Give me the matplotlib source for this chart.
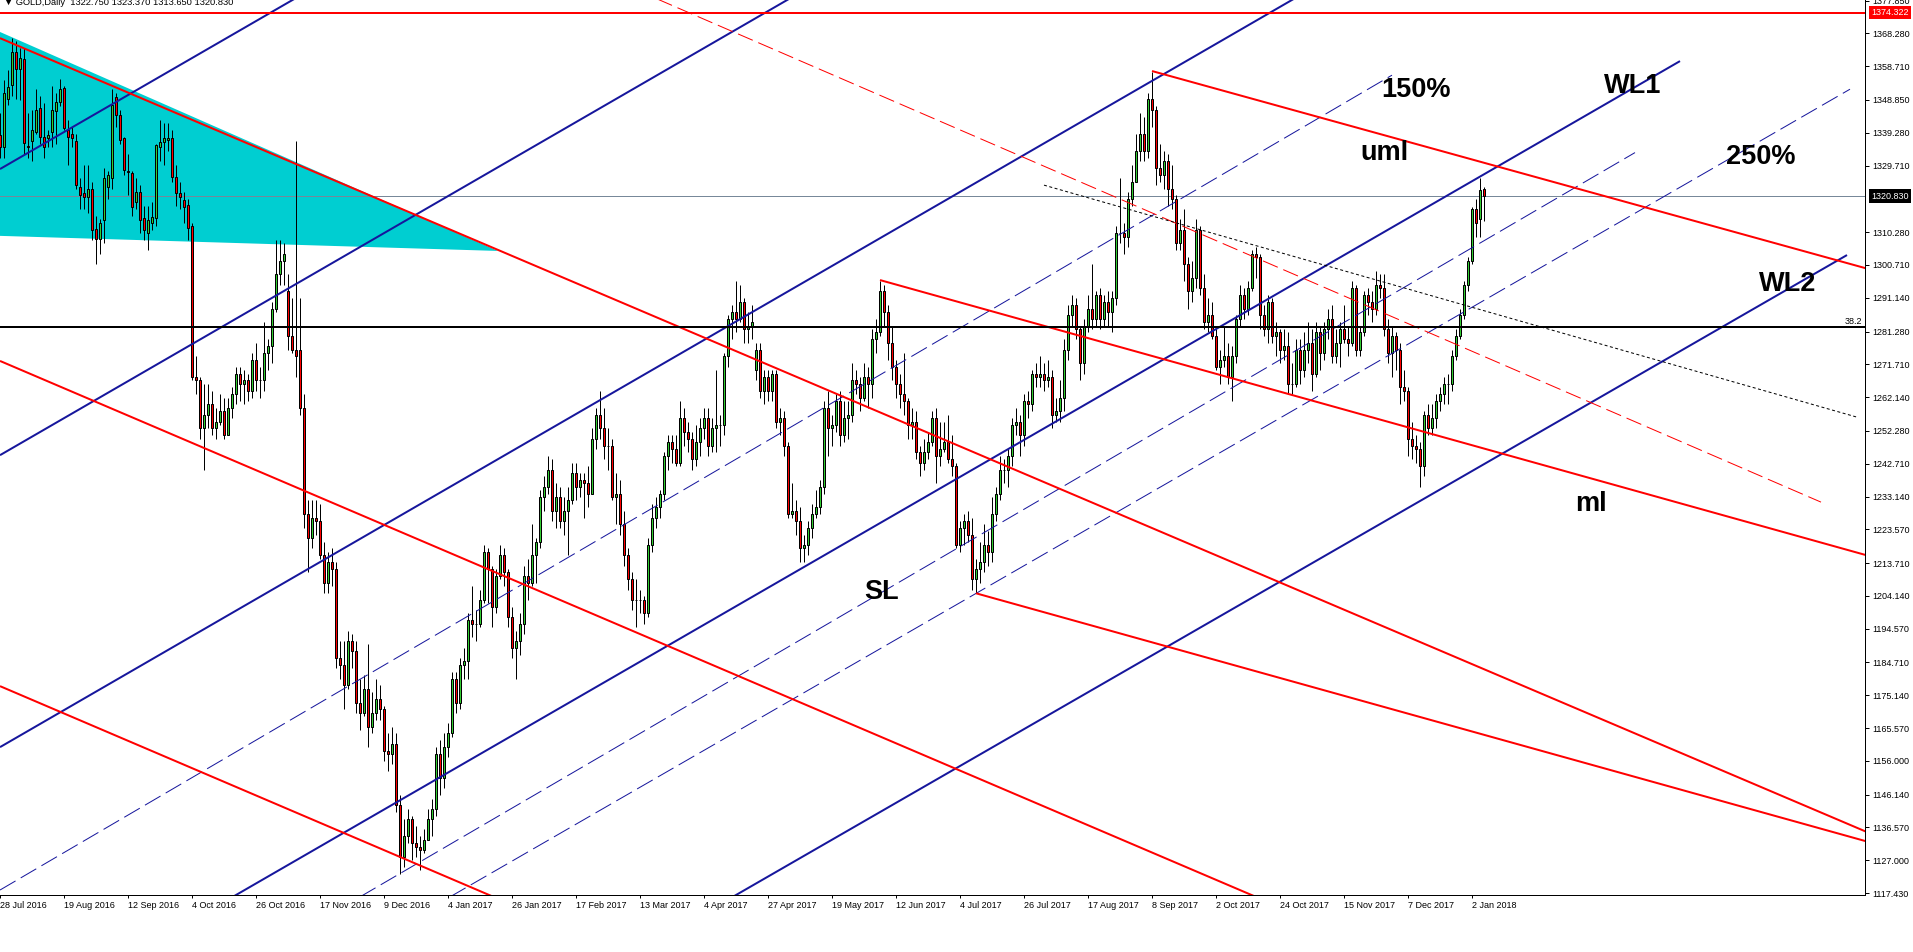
import matplotlib
matplotlib.use("Agg")
import matplotlib.pyplot as plt
import matplotlib.transforms as mtransforms
from matplotlib.patches import Polygon

plt.rcParams['font.family'] = ['Liberation Sans', 'DejaVu Sans']

# GOLD daily candles, one value per bar, 28 Jul 2016 .. 5 Jan 2018 (16 bars per row)
opens = [
    1338.6, 1335.2, 1349.0, 1353.3, 1363.0, 1358.0, 1360.8, 1335.5, 1336.8, 1339.5, 1346.5, 1338.0, 1337.7, 1339.5, 1345.5, 1348.4,
    1352.3, 1340.0, 1339.0, 1337.0, 1323.4, 1321.7, 1320.5, 1322.8, 1311.3, 1308.3, 1313.8, 1323.4, 1326.1, 1349.8, 1344.5, 1337.8,
    1328.0, 1327.5, 1319.0, 1322.0, 1314.4, 1310.0, 1313.0, 1314.4, 1335.0, 1336.7, 1337.3, 1337.8, 1326.4, 1321.7, 1319.7, 1318.3,
    1312, 1268, 1267, 1253, 1257, 1260, 1253, 1255, 1258, 1251, 1259, 1263, 1269, 1266, 1267, 1264,
    1273, 1267, 1267, 1275, 1277, 1288, 1298, 1302, 1293, 1280, 1276, 1276, 1259, 1228, 1221, 1227,
    1226, 1216, 1208, 1214, 1212, 1186, 1184, 1178, 1191, 1188, 1173, 1170, 1177, 1166, 1170, 1174,
    1171, 1159, 1158, 1161, 1143, 1128, 1134, 1139, 1132, 1131, 1130, 1133, 1139, 1142, 1158, 1151,
    1160, 1164, 1180, 1173, 1184, 1185, 1197, 1196, 1196, 1203, 1217, 1212, 1201, 1210, 1216, 1211,
    1198, 1189, 1191, 1196, 1210, 1208, 1216, 1220, 1233, 1236, 1241, 1229, 1233, 1226, 1229, 1232,
    1240, 1236, 1238, 1237, 1234, 1250, 1257, 1253, 1248, 1248, 1233, 1234, 1225, 1216, 1209, 1203,
    1203, 1203, 1199, 1219, 1227, 1230, 1234, 1245, 1249, 1247, 1243, 1256, 1252, 1250, 1244, 1249,
    1253, 1256, 1248, 1253, 1254, 1254, 1274, 1285, 1287, 1285, 1290, 1282, 1283, 1270, 1276, 1264,
    1268, 1264, 1269, 1255, 1256, 1248, 1228, 1229, 1226, 1218, 1219, 1224, 1228, 1230, 1236, 1259,
    1253, 1254, 1261, 1251, 1256, 1257, 1267, 1266, 1262, 1268, 1266, 1279, 1281, 1293, 1287, 1278,
    1271, 1266, 1263, 1261, 1254, 1255, 1246, 1243, 1246, 1249, 1256, 1245, 1247, 1249, 1244, 1242,
    1219, 1224, 1226, 1222, 1209, 1212, 1214, 1219, 1217, 1228, 1234, 1241, 1241, 1245, 1254, 1255,
    1251, 1261, 1260, 1269, 1268, 1269, 1267, 1268, 1257, 1258, 1262, 1276, 1286, 1289, 1282, 1272,
    1283, 1288, 1285, 1292, 1285, 1290, 1287, 1291, 1310, 1310, 1309, 1320, 1325, 1334, 1339, 1334,
    1349, 1346, 1329, 1327, 1331, 1323, 1320, 1307, 1311, 1301, 1293, 1297, 1311, 1294, 1284, 1286,
    1280, 1271, 1273, 1274, 1268, 1274, 1285, 1292, 1288, 1294, 1304, 1303, 1286, 1282, 1290, 1280,
    1281, 1276, 1277, 1266, 1266, 1276, 1270, 1276, 1278, 1269, 1281, 1275, 1282, 1285, 1274, 1278,
    1282, 1279, 1278, 1294, 1276, 1281, 1292, 1290, 1288, 1295, 1294, 1282, 1275, 1280, 1276, 1265,
    1264, 1250, 1248, 1247, 1242, 1257, 1253, 1256, 1261, 1263, 1266, 1266, 1274, 1280, 1286, 1295,
    1302, 1317, 1314, 1322.75,
]
highs = [
    1345, 1354.7, 1357.6, 1366.9, 1366, 1364, 1364, 1345, 1346, 1352, 1350, 1348, 1340, 1353, 1351, 1355,
    1353, 1343, 1341, 1339, 1326, 1330, 1330, 1325, 1315, 1314, 1329, 1328, 1352, 1351, 1346, 1338,
    1333, 1328, 1326, 1324, 1318, 1318, 1319, 1336, 1343, 1342, 1342, 1340, 1330, 1325, 1322, 1320,
    1313, 1274, 1268, 1266, 1266, 1264, 1259, 1263, 1262, 1262, 1265, 1271, 1271, 1270, 1269, 1275,
    1278, 1271, 1284, 1279, 1290, 1308, 1308, 1307, 1298, 1291, 1337, 1291, 1263, 1232, 1232, 1232,
    1231, 1220, 1217, 1218, 1214, 1191, 1191, 1194, 1193, 1191, 1180, 1181, 1190, 1176, 1180, 1178,
    1172, 1164, 1166, 1164, 1146, 1139, 1142, 1140, 1137, 1134, 1136, 1142, 1145, 1160, 1162, 1164,
    1167, 1182, 1182, 1186, 1189, 1199, 1207, 1200, 1206, 1219, 1218, 1213, 1212, 1219, 1218, 1212,
    1201, 1194, 1199, 1213, 1215, 1225, 1221, 1235, 1239, 1245, 1244, 1237, 1236, 1233, 1236, 1243,
    1243, 1240, 1240, 1242, 1253, 1259, 1264, 1259, 1253, 1250, 1240, 1238, 1229, 1218, 1211, 1209,
    1206, 1204, 1221, 1231, 1233, 1235, 1246, 1251, 1251, 1251, 1261, 1259, 1255, 1252, 1254, 1256,
    1259, 1259, 1256, 1270, 1257, 1275, 1286, 1289, 1296, 1295, 1291, 1287, 1289, 1278, 1278, 1270,
    1270, 1270, 1270, 1259, 1258, 1249, 1237, 1232, 1230, 1222, 1226, 1231, 1235, 1238, 1261, 1264,
    1257, 1263, 1264, 1261, 1261, 1272, 1270, 1268, 1272, 1271, 1282, 1285, 1296, 1295, 1289, 1283,
    1273, 1269, 1275, 1262, 1259, 1258, 1248, 1250, 1252, 1258, 1259, 1255, 1255, 1257, 1251, 1243,
    1226, 1228, 1229, 1227, 1215, 1220, 1225, 1223, 1233, 1236, 1245, 1244, 1247, 1256, 1259, 1257,
    1263, 1264, 1270, 1272, 1274, 1272, 1273, 1270, 1262, 1267, 1279, 1289, 1292, 1291, 1283, 1285,
    1292, 1301, 1293, 1294, 1292, 1293, 1293, 1312, 1326, 1313, 1322, 1330, 1339, 1345, 1344, 1351,
    1357, 1347, 1336, 1334, 1333, 1330, 1321, 1314, 1317, 1303, 1302, 1314, 1312, 1298, 1291, 1290,
    1282, 1276, 1283, 1278, 1277, 1286, 1295, 1294, 1296, 1305, 1306, 1304, 1289, 1292, 1291, 1284,
    1282, 1282, 1281, 1272, 1279, 1279, 1281, 1284, 1282, 1284, 1283, 1284, 1288, 1289, 1282, 1284,
    1289, 1283, 1296, 1295, 1283, 1293, 1294, 1293, 1299, 1298, 1298, 1285, 1283, 1281, 1278, 1270,
    1265, 1255, 1251, 1249, 1258, 1260, 1260, 1263, 1265, 1268, 1269, 1276, 1282, 1288, 1296, 1303,
    1317.5, 1320, 1326, 1323.37,
]
lows = [
    1332, 1332, 1347.5, 1350, 1349, 1348.8, 1333, 1332, 1331, 1339, 1336, 1332, 1335, 1335, 1336, 1347,
    1340, 1330, 1335, 1323, 1317, 1317, 1316, 1308, 1301, 1304, 1307, 1320, 1323, 1341, 1336, 1327,
    1321, 1315, 1317, 1310, 1308, 1305, 1311, 1312, 1331, 1330, 1334, 1325, 1318, 1317, 1313, 1308,
    1267, 1263, 1250, 1241, 1253, 1251, 1250, 1254, 1250, 1251, 1256, 1260, 1261, 1260, 1261, 1262,
    1264, 1262, 1264, 1270, 1272, 1287, 1295, 1295, 1276, 1275, 1268, 1257, 1224, 1211, 1218, 1222,
    1215, 1205, 1205, 1207, 1183, 1180, 1171, 1177, 1183, 1170, 1165, 1169, 1160, 1164, 1168, 1168,
    1156, 1153, 1155, 1141, 1123, 1125, 1132, 1127, 1128, 1124, 1129, 1133, 1134, 1140, 1146, 1148,
    1157, 1163, 1170, 1171, 1180, 1180, 1192, 1191, 1195, 1202, 1202, 1195, 1199, 1209, 1207, 1195,
    1186, 1180, 1187, 1193, 1203, 1207, 1208, 1218, 1229, 1234, 1226, 1224, 1224, 1222, 1216, 1231,
    1232, 1233, 1227, 1230, 1234, 1247, 1250, 1244, 1241, 1232, 1225, 1222, 1213, 1206, 1200, 1195,
    1199, 1196, 1198, 1217, 1224, 1227, 1232, 1241, 1243, 1242, 1242, 1248, 1246, 1241, 1242, 1245,
    1250, 1245, 1246, 1246, 1248, 1251, 1271, 1279, 1281, 1284, 1278, 1278, 1279, 1267, 1262, 1260,
    1261, 1261, 1253, 1251, 1245, 1227, 1227, 1222, 1214, 1214, 1216, 1221, 1227, 1228, 1234, 1245,
    1248, 1252, 1248, 1249, 1250, 1255, 1263, 1258, 1261, 1259, 1262, 1275, 1280, 1283, 1273, 1267,
    1262, 1259, 1257, 1250, 1250, 1244, 1239, 1241, 1244, 1248, 1237, 1242, 1246, 1243, 1239, 1218,
    1217, 1219, 1220, 1206, 1205, 1208, 1211, 1213, 1214, 1226, 1232, 1237, 1236, 1242, 1251, 1245,
    1248, 1256, 1258, 1265, 1265, 1264, 1265, 1253, 1255, 1255, 1258, 1273, 1283, 1279, 1267, 1269,
    1281, 1282, 1283, 1282, 1283, 1283, 1281, 1289, 1307, 1304, 1306, 1318, 1325, 1331, 1331, 1332,
    1341, 1324, 1325, 1323, 1318, 1317, 1305, 1305, 1296, 1288, 1290, 1294, 1292, 1282, 1281, 1279,
    1270, 1266, 1271, 1266, 1261, 1272, 1283, 1285, 1286, 1293, 1297, 1282, 1280, 1278, 1278, 1274,
    1272, 1273, 1263, 1263, 1265, 1266, 1268, 1272, 1264, 1268, 1270, 1273, 1279, 1272, 1272, 1271,
    1278, 1274, 1277, 1274, 1274, 1280, 1286, 1284, 1286, 1291, 1280, 1272, 1268, 1270, 1260, 1261,
    1245, 1244, 1243, 1236, 1239, 1251, 1251, 1253, 1258, 1260, 1260, 1264, 1273, 1279, 1285, 1293,
    1301, 1309, 1309, 1313.65,
]
closes = [
    1335.1, 1351.0, 1352.7, 1363.0, 1357.8, 1361.0, 1336.2, 1335.0, 1340.0, 1346.0, 1338.0, 1335.0, 1338.6, 1346.0, 1348.4, 1352.0,
    1340.7, 1338.0, 1337.7, 1324.0, 1321.0, 1320.5, 1322.8, 1310.8, 1308.3, 1312.9, 1326.0, 1326.9, 1347.5, 1344.5, 1337.1, 1328.5,
    1327.8, 1317.6, 1322.0, 1313.8, 1310.8, 1313.8, 1314.7, 1335.7, 1336.7, 1337.8, 1337.8, 1326.4, 1321.7, 1320.5, 1317.6, 1311.4,
    1268, 1267, 1253, 1257, 1260, 1253, 1255, 1258, 1251, 1259, 1263, 1269, 1266, 1267, 1264, 1273,
    1267, 1267, 1275, 1277, 1288, 1298, 1302, 1304, 1280, 1276, 1274, 1259, 1228, 1221, 1227, 1226,
    1216, 1208, 1214, 1212, 1186, 1184, 1178, 1191, 1188, 1173, 1170, 1177, 1166, 1170, 1174, 1171,
    1159, 1158, 1161, 1143, 1128, 1134, 1139, 1132, 1131, 1130, 1133, 1139, 1142, 1158, 1151, 1160,
    1164, 1180, 1173, 1184, 1185, 1197, 1196, 1196, 1203, 1217, 1212, 1201, 1210, 1216, 1211, 1198,
    1189, 1191, 1196, 1210, 1208, 1216, 1220, 1233, 1236, 1241, 1229, 1233, 1226, 1229, 1232, 1240,
    1236, 1238, 1237, 1234, 1250, 1257, 1253, 1248, 1248, 1233, 1234, 1225, 1216, 1209, 1203, 1203,
    1203, 1199, 1219, 1227, 1230, 1234, 1245, 1249, 1247, 1243, 1256, 1252, 1250, 1244, 1249, 1253,
    1256, 1248, 1253, 1254, 1254, 1274, 1285, 1287, 1285, 1290, 1282, 1283, 1284, 1276, 1264, 1268,
    1264, 1269, 1255, 1256, 1248, 1228, 1229, 1226, 1218, 1219, 1224, 1228, 1230, 1236, 1259, 1253,
    1254, 1261, 1251, 1256, 1257, 1267, 1266, 1262, 1268, 1266, 1279, 1281, 1293, 1287, 1278, 1271,
    1266, 1263, 1261, 1254, 1255, 1246, 1243, 1246, 1249, 1256, 1245, 1247, 1249, 1244, 1242, 1219,
    1224, 1226, 1222, 1209, 1212, 1214, 1219, 1217, 1228, 1234, 1241, 1241, 1245, 1254, 1255, 1251,
    1261, 1260, 1269, 1268, 1269, 1267, 1268, 1257, 1258, 1262, 1276, 1286, 1289, 1282, 1272, 1283,
    1288, 1285, 1292, 1285, 1290, 1287, 1291, 1310, 1310, 1309, 1320, 1325, 1334, 1339, 1334, 1349,
    1346, 1329, 1327, 1331, 1323, 1320, 1307, 1311, 1301, 1293, 1297, 1311, 1294, 1284, 1286, 1280,
    1271, 1273, 1274, 1268, 1274, 1285, 1292, 1288, 1294, 1304, 1303, 1286, 1282, 1290, 1280, 1281,
    1276, 1277, 1266, 1266, 1276, 1270, 1276, 1278, 1269, 1281, 1275, 1282, 1285, 1274, 1278, 1282,
    1279, 1278, 1294, 1276, 1281, 1292, 1290, 1288, 1295, 1294, 1282, 1275, 1280, 1276, 1265, 1264,
    1250, 1248, 1247, 1242, 1257, 1253, 1256, 1261, 1263, 1266, 1266, 1274, 1280, 1286, 1295, 1302,
    1317, 1313, 1322.6, 1320.83,
]

date_bars = [0, 16, 32, 48, 64, 80, 96, 112, 128, 144, 160, 176, 192, 208, 224, 240, 256, 272, 288, 304, 320, 336, 352, 368]
date_labels = ['28 Jul 2016', '19 Aug 2016', '12 Sep 2016', '4 Oct 2016', '26 Oct 2016', '17 Nov 2016',
               '9 Dec 2016', '4 Jan 2017', '26 Jan 2017', '17 Feb 2017', '13 Mar 2017', '4 Apr 2017',
               '27 Apr 2017', '19 May 2017', '12 Jun 2017', '4 Jul 2017', '26 Jul 2017', '17 Aug 2017',
               '8 Sep 2017', '2 Oct 2017', '24 Oct 2017', '15 Nov 2017', '7 Dec 2017', '2 Jan 2018']
price_ticks = [1377.85, 1368.28, 1358.71, 1348.85, 1339.28, 1329.71, 1310.28, 1300.71, 1291.14, 1281.28,
               1271.71, 1262.14, 1252.28, 1242.71, 1233.14, 1223.57, 1213.71, 1204.14, 1194.57, 1184.71,
               1175.14, 1165.57, 1156.00, 1146.14, 1136.57, 1127.00, 1117.43]

# chart objects, anchors as (bar, price)
blue_lines = [((0, 1328.7), (75, 1379.3)),
              ((0, 1245.2), (200, 1380.2)),
              ((0, 1160.0), (325, 1379.4)),
              ((57, 1115.5), (420, 1360.2)),      # WL1
              ((182, 1115.5), (461.75, 1303.6))]  # WL2
blue_dashed = [((0, 1118.3), (348, 1356.1)),
               ((90, 1116.3), (408.75, 1333.5)),
               ((112.5, 1116.3), (462.5, 1352.0))]
red_lines = [((0, 1366.9), (470, 1133.6)),
             ((0, 1272.7), (316, 1115.3)),
             ((0, 1177.8), (126, 1115.0)),
             ((220, 1296.3), (470, 1214.9)),   # from Jun high
             ((288, 1357.3), (470, 1298.6)),   # from Sep high
             ((244, 1204.9), (470, 1131.4))]   # from Jul low
red_dashed = [((160, 1380.5), (455.25, 1231.5))]
black_dotted = [((261, 1324.0), (464.25, 1256.3))]
triangle = [(0, 1368.7), (124.5, 1304.8), (0, 1309.2)]
resistance = 1374.322
fib_level = 1282.7
last_price = 1320.83

BULL = '#32cd32'
BEAR = '#ff0000'
NAVY = '#16169c'
PX = 0.72  # one screen pixel in points

fig = plt.figure(figsize=(19.13, 9.52), dpi=100)
ax = fig.add_axes([0, 57 / 952, 1865 / 1913, 895 / 952])
ax.set_xlim(0, 466.25)
ax.set_ylim(1116.85, 1378.03)

ax.add_patch(Polygon(triangle, closed=True, fc='#00ced1', ec='none', zorder=1))

# candles
bars = list(range(len(closes)))
ax.vlines(bars, lows, highs, color='black', lw=PX, zorder=3)
bottoms = [min(o, c) for o, c in zip(opens, closes)]
heights = [abs(c - o) for o, c in zip(opens, closes)]
colors = [BULL if c >= o else BEAR for o, c in zip(opens, closes)]
ax.bar(bars, heights, bottom=bottoms, width=0.55, color=colors,
       edgecolor='black', linewidth=PX, zorder=4)

def draw(segs, **kw):
    for (b0, p0), (b1, p1) in segs:
        ax.plot([b0, b1], [p0, p1], solid_capstyle='butt', zorder=5, **kw)

draw(blue_lines, color=NAVY, lw=2 * PX)
draw(blue_dashed, color=NAVY, lw=PX, dashes=(18, 6))
draw(red_lines, color='red', lw=2 * PX)
draw(red_dashed, color='red', lw=PX, dashes=(16, 6))
draw(black_dotted, color='black', lw=PX, dashes=(3, 2.5))

ax.axhline(resistance, color='red', lw=2 * PX, zorder=5)
ax.axhline(fib_level, color='black', lw=2 * PX, zorder=5)
ax.axhline(last_price, color='#778899', lw=PX, zorder=2)

lab = dict(fontsize=19.5, fontweight='bold', ha='center', va='baseline', color='black', zorder=6)
ax.text(354, 1349.7, '150%', **lab)
ax.text(408.25, 1350.9, 'WL1', **lab)
ax.text(346, 1331.3, 'uml', **lab)
ax.text(440.25, 1330.2, '250%', **lab)
ax.text(447, 1293.1, 'WL2', **lab)
ax.text(397.75, 1228.9, 'ml', **lab)
ax.text(220.5, 1203.2, 'SL', **lab)

trans = mtransforms.blended_transform_factory(ax.transAxes, ax.transData)
ax.text(1.0, fib_level, '38.2', fontsize=6.5, ha='right', va='bottom',
        transform=mtransforms.offset_copy(trans, fig=fig, x=-3, y=1, units='dots'))
for val, bg in [(resistance, 'red'), (last_price, 'black')]:
    ax.text(1.0, val, f'{val:.3f}', fontsize=6.5, color='white', ha='left', va='center',
            transform=mtransforms.offset_copy(trans, fig=fig, x=6, y=0, units='dots'),
            bbox=dict(boxstyle='square,pad=0.25', fc=bg, ec='none'), clip_on=False, zorder=7)

ax.yaxis.tick_right()
ax.set_yticks(price_ticks)
ax.set_yticklabels([f'{v:.3f}' for v in price_ticks])
ax.set_xticks(date_bars)
ax.set_xticklabels(date_labels, ha='left')
ax.tick_params(axis='y', direction='out', length=3, width=PX, pad=2.5, labelsize=6.5)
ax.tick_params(axis='x', direction='out', length=2.5, width=PX, pad=1.5, labelsize=6.5)
for s in ['left', 'top']:
    ax.spines[s].set_visible(False)
for s in ['right', 'bottom']:
    ax.spines[s].set_linewidth(PX)

# header line, its top is cut by the window edge as in the terminal
fig.text(4 / 1913, 1 - 5 / 952, '\u25bc GOLD,Daily  1322.750 1323.370 1313.650 1320.830',
         fontsize=6.7, va='baseline', ha='left')

fig.savefig('out.png', dpi=100)
